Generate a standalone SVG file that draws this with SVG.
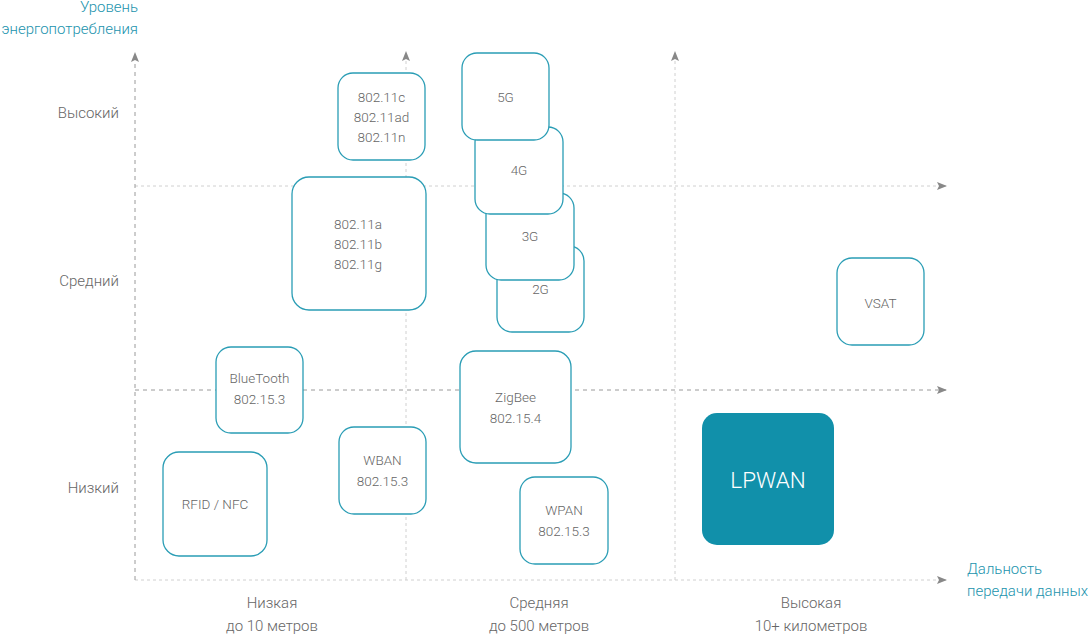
<svg xmlns="http://www.w3.org/2000/svg" width="1090" height="635" viewBox="0 0 1090 635">
<defs>
<style>
.box{fill:#fff;stroke:#2a9db5;stroke-width:1.3}
.t{font-family:Roboto,"Liberation Sans",sans-serif;font-weight:300;font-size:13.5px;fill:#666;text-anchor:middle}
.lab{font-family:Roboto,"Liberation Sans",sans-serif;font-weight:300;font-size:15px;fill:#666}
.ax{font-family:Roboto,"Liberation Sans",sans-serif;font-weight:300;font-size:15px;fill:#1a93ad}
.dk{stroke:#9a9a9a;stroke-width:1;stroke-dasharray:4 4;fill:none}
.lt{stroke:#d0d0d0;stroke-width:1;stroke-dasharray:3 3;fill:none}
</style>
<marker id="ar" markerWidth="10" markerHeight="8" refX="9" refY="4" orient="auto" markerUnits="userSpaceOnUse">
<path d="M0,0 L10,4 L0,8 L2,4 z" fill="#888"/>
</marker>
</defs>
<g id="connectors">
<line class="lt" x1="406" y1="580" x2="406" y2="52" marker-end="url(#ar)"/>
<line class="lt" x1="675" y1="580" x2="675" y2="52" marker-end="url(#ar)"/>
<line class="lt" x1="135" y1="186" x2="946" y2="186" marker-end="url(#ar)"/>
<line class="dk" x1="135" y1="390" x2="946" y2="390" marker-end="url(#ar)"/>
<line class="lt" x1="135" y1="580" x2="946" y2="580" marker-end="url(#ar)"/>
<line class="dk" x1="135" y1="580" x2="135" y2="53" marker-end="url(#ar)"/>
</g>
<g id="labels">
<text class="ax" x="138" y="12" text-anchor="end">Уровень</text>
<text class="ax" x="138" y="34" text-anchor="end">энергопотребления</text>
<text class="lab" x="119" y="118" text-anchor="end">Высокий</text>
<text class="lab" x="119" y="286" text-anchor="end">Средний</text>
<text class="lab" x="119" y="493" text-anchor="end">Низкий</text>
<text class="lab" x="272" y="608" text-anchor="middle">Низкая</text>
<text class="lab" x="272" y="631" text-anchor="middle">до 10 метров</text>
<text class="lab" x="539" y="608" text-anchor="middle">Средняя</text>
<text class="lab" x="539" y="631" text-anchor="middle">до 500 метров</text>
<text class="lab" x="811" y="608" text-anchor="middle">Высокая</text>
<text class="lab" x="811" y="631" text-anchor="middle">10+ километров</text>
<text class="ax" x="967" y="574">Дальность</text>
<text class="ax" x="967" y="596">передачи данных</text>
</g>
<g id="n80211c"><rect class="box" x="338" y="73" width="87" height="87" rx="15"/>
<text class="t" x="381.5" y="102">802.11c</text><text class="t" x="381.5" y="122">802.11ad</text><text class="t" x="381.5" y="142">802.11n</text></g>
<g id="n2g"><rect class="box" x="497" y="246" width="87" height="86" rx="15"/><text class="t" x="540.5" y="294">2G</text></g>
<g id="n3g"><rect class="box" x="486" y="193" width="88" height="87" rx="15"/><text class="t" x="530" y="241">3G</text></g>
<g id="n4g"><rect class="box" x="475" y="127" width="88" height="87" rx="15"/><text class="t" x="519" y="175">4G</text></g>
<g id="n5g"><rect class="box" x="462" y="53" width="87" height="87" rx="15"/><text class="t" x="505.5" y="102">5G</text></g>
<g id="n80211a"><rect class="box" x="292" y="177" width="134" height="133" rx="17"/>
<text class="t" x="358" y="229">802.11a</text><text class="t" x="358" y="249">802.11b</text><text class="t" x="358" y="269">802.11g</text></g>
<g id="nbt"><rect class="box" x="216" y="347" width="87" height="86" rx="15"/>
<text class="t" x="259.5" y="383">BlueTooth</text><text class="t" x="259.5" y="404">802.15.3</text></g>
<g id="nrfid"><rect class="box" x="163" y="452" width="104" height="104" rx="16"/>
<text class="t" x="215" y="509">RFID / NFC</text></g>
<g id="nwban"><rect class="box" x="339" y="427" width="87" height="87" rx="15"/>
<text class="t" x="382.5" y="465">WBAN</text><text class="t" x="382.5" y="486">802.15.3</text></g>
<g id="nzigbee"><rect class="box" x="460" y="351" width="111" height="112" rx="16"/>
<text class="t" x="515.5" y="402">ZigBee</text><text class="t" x="515.5" y="423">802.15.4</text></g>
<g id="nwpan"><rect class="box" x="520" y="477" width="88" height="87" rx="15"/>
<text class="t" x="564" y="515">WPAN</text><text class="t" x="564" y="536">802.15.3</text></g>
<g id="nvsat"><rect class="box" x="837" y="258" width="87" height="87" rx="15"/>
<text class="t" x="880.5" y="308">VSAT</text></g>
<g id="nlpwan"><rect x="702" y="413" width="132" height="132" rx="15" fill="#1190aa"/>
<text x="768" y="488" text-anchor="middle" font-family="Roboto,'Liberation Sans',sans-serif" font-weight="300" font-size="22.5" fill="#fff">LPWAN</text></g>
</svg>
